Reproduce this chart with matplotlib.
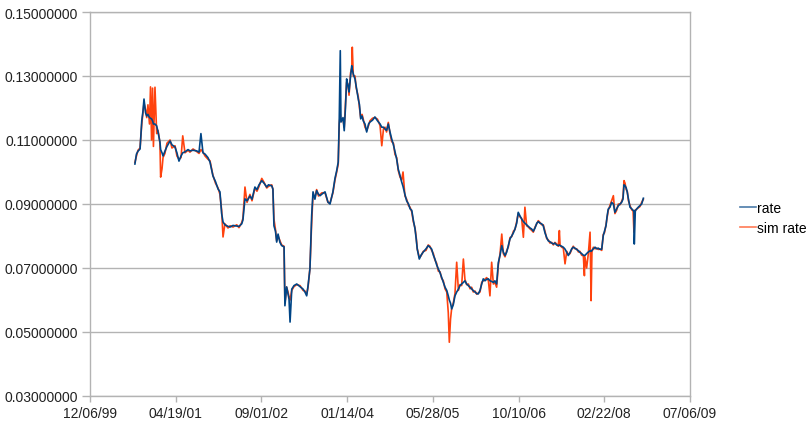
import datetime as dt
import matplotlib
matplotlib.use("Agg")
import matplotlib.pyplot as plt
import matplotlib.dates as mdates
from matplotlib.ticker import FuncFormatter, FixedLocator

plt.rcParams['font.family'] = ['Liberation Sans', 'DejaVu Sans']

# Days since 1999-12-06 for each observation
days = [262, 271, 280, 292, 302, 309, 315, 324, 331, 338, 347, 353, 359, 365, 370, 379, 389, 397,
        408, 412, 420, 426, 437, 449, 467, 478, 496, 507, 519, 531, 541, 554, 572, 583, 601, 622,
        636, 647, 659, 671, 688, 700, 717, 732, 747, 758, 768, 776, 787, 805, 817, 834, 856, 869,
        885, 892, 904, 916, 933, 945, 962, 974, 986, 1002, 1015, 1031, 1041, 1060, 1067, 1073,
        1082, 1089, 1097, 1108, 1118, 1132, 1137, 1147, 1155, 1161, 1167, 1177, 1190, 1206, 1225,
        1243, 1254, 1264, 1272, 1283, 1293, 1301, 1312, 1322, 1333, 1342, 1353, 1371, 1388, 1400,
        1417, 1429, 1439, 1448, 1454, 1460, 1464, 1476, 1483, 1490, 1497, 1505, 1511, 1520, 1527,
        1530, 1536, 1546, 1552, 1565, 1572, 1579, 1587, 1594, 1604, 1614, 1625, 1633, 1648, 1662,
        1677, 1692, 1702, 1712, 1721, 1730, 1740, 1750, 1760, 1770, 1779, 1789, 1798, 1808, 1818,
        1826, 1837, 1847, 1858, 1867, 1877, 1886, 1896, 1903, 1909, 1921, 1931, 1944, 1960, 1973,
        1983, 1993, 2003, 2012, 2022, 2032, 2042, 2051, 2061, 2071, 2081, 2090, 2096, 2103, 2110,
        2119, 2129, 2139, 2149, 2158, 2168, 2178, 2187, 2197, 2207, 2217, 2226, 2236, 2246, 2256,
        2265, 2275, 2285, 2294, 2304, 2314, 2324, 2333, 2343, 2353, 2362, 2372, 2382, 2392, 2402,
        2411, 2421, 2431, 2440, 2450, 2460, 2470, 2479, 2489, 2498, 2508, 2518, 2528, 2537, 2547,
        2557, 2567, 2576, 2586, 2596, 2606, 2615, 2625, 2635, 2644, 2654, 2664, 2673, 2683, 2693,
        2703, 2712, 2722, 2732, 2738, 2742, 2751, 2761, 2771, 2781, 2790, 2800, 2810, 2819, 2829,
        2839, 2849, 2858, 2868, 2878, 2884, 2887, 2897, 2907, 2917, 2923, 2928, 2936, 2946, 2956,
        2965, 2975, 2985, 2994, 3001, 3010, 3016, 3023, 3033, 3043, 3053, 3062, 3072, 3082, 3092,
        3101, 3109, 3115, 3121, 3128, 3134, 3141, 3150, 3160, 3168, 3173, 3175, 3181, 3189, 3198,
        3208, 3218, 3228]

rate = [0.1025, 0.1056, 0.1065, 0.1072, 0.1160, 0.1190, 0.1228, 0.1185, 0.1175, 0.1180, 0.1170,
        0.1168, 0.1166, 0.1160, 0.1150, 0.1150, 0.1144, 0.1125, 0.1094, 0.1070, 0.1060, 0.1050,
        0.1065, 0.1080, 0.1097, 0.1085, 0.1078, 0.1060, 0.1034, 0.1050, 0.1060, 0.1063, 0.1070,
        0.1066, 0.1068, 0.1066, 0.1062, 0.1120, 0.1060, 0.1056, 0.1045, 0.1031, 0.0988, 0.0970,
        0.0947, 0.0938, 0.0870, 0.0844, 0.0835, 0.0830, 0.0828, 0.0833, 0.0831, 0.0830, 0.0838,
        0.0850, 0.0916, 0.0910, 0.0925, 0.0915, 0.0953, 0.0945, 0.0960, 0.0973, 0.0965, 0.0953,
        0.0960, 0.0957, 0.0947, 0.0832, 0.0815, 0.0781, 0.0806, 0.0780, 0.0770, 0.0766, 0.0582,
        0.0641, 0.0620, 0.0603, 0.0531, 0.0634, 0.0645, 0.0650, 0.0642, 0.0634, 0.0625, 0.0613,
        0.0645, 0.0697, 0.0863, 0.0938, 0.0915, 0.0942, 0.0930, 0.0926, 0.0931, 0.0938, 0.0906,
        0.0900, 0.0938, 0.0980, 0.1004, 0.1031, 0.1166, 0.1379, 0.1156, 0.1170, 0.1129, 0.1200,
        0.1291, 0.1270, 0.1250, 0.1300, 0.1332, 0.1320, 0.1306, 0.1290, 0.1270, 0.1228, 0.1210,
        0.1166, 0.1175, 0.1160, 0.1150, 0.1125, 0.1150, 0.1156, 0.1162, 0.1172, 0.1160, 0.1150,
        0.1140, 0.1140, 0.1134, 0.1130, 0.1150, 0.1125, 0.1103, 0.1085, 0.1063, 0.1040, 0.1009,
        0.0990, 0.0969, 0.0955, 0.0930, 0.0910, 0.0900, 0.0885, 0.0880, 0.0850, 0.0822, 0.0790,
        0.0759, 0.0728, 0.0740, 0.0750, 0.0760, 0.0770, 0.0765, 0.0759, 0.0740, 0.0728, 0.0710,
        0.0697, 0.0685, 0.0671, 0.0655, 0.0640, 0.0630, 0.0613, 0.0600, 0.0590, 0.0572, 0.0585,
        0.0613, 0.0625, 0.0634, 0.0645, 0.0650, 0.0655, 0.0660, 0.0650, 0.0645, 0.0640, 0.0635,
        0.0629, 0.0625, 0.0620, 0.0619, 0.0630, 0.0650, 0.0666, 0.0660, 0.0665, 0.0666, 0.0660,
        0.0658, 0.0655, 0.0660, 0.0650, 0.0717, 0.0740, 0.0770, 0.0750, 0.0739, 0.0750, 0.0770,
        0.0791, 0.0800, 0.0810, 0.0822, 0.0840, 0.0874, 0.0863, 0.0853, 0.0845, 0.0840, 0.0835,
        0.0830, 0.0825, 0.0822, 0.0815, 0.0825, 0.0840, 0.0845, 0.0840, 0.0838, 0.0832, 0.0810,
        0.0795, 0.0785, 0.0782, 0.0778, 0.0775, 0.0778, 0.0772, 0.0770, 0.0772, 0.0770, 0.0768,
        0.0765, 0.0759, 0.0749, 0.0739, 0.0748, 0.0760, 0.0765, 0.0762, 0.0758, 0.0754, 0.0749,
        0.0745, 0.0740, 0.0739, 0.0739, 0.0745, 0.0750, 0.0754, 0.0752, 0.0755, 0.0760, 0.0765,
        0.0760, 0.0762, 0.0758, 0.0759, 0.0801, 0.0815, 0.0832, 0.0860, 0.0884, 0.0890, 0.0905,
        0.0900, 0.0874, 0.0885, 0.0895, 0.0900, 0.0905, 0.0915, 0.0960, 0.0957, 0.0950, 0.0937,
        0.0915, 0.0890, 0.0885, 0.0880, 0.0879, 0.0775, 0.0880, 0.0884, 0.0890, 0.0895, 0.0900,
        0.0918]

sim_rate = [0.1030, 0.1050, 0.1068, 0.1075, 0.1150, 0.1185, 0.1215, 0.1195, 0.1170, 0.1210, 0.1150,
            0.1266, 0.1100, 0.1262, 0.1080, 0.1265, 0.1120, 0.1130, 0.1090, 0.0984, 0.1010, 0.1045,
            0.1058, 0.1090, 0.1100, 0.1075, 0.1082, 0.1050, 0.1040, 0.1045, 0.1113, 0.1060, 0.1068,
            0.1062, 0.1072, 0.1064, 0.1058, 0.1070, 0.1062, 0.1050, 0.1040, 0.1035, 0.0990, 0.0965,
            0.0950, 0.0930, 0.0880, 0.0797, 0.0838, 0.0825, 0.0832, 0.0828, 0.0835, 0.0826, 0.0842,
            0.0855, 0.0953, 0.0905, 0.0930, 0.0910, 0.0950, 0.0940, 0.0955, 0.0980, 0.0968, 0.0950,
            0.0955, 0.0960, 0.0945, 0.0853, 0.0820, 0.0785, 0.0800, 0.0785, 0.0772, 0.0768, 0.0590,
            0.0640, 0.0625, 0.0610, 0.0600, 0.0630, 0.0642, 0.0648, 0.0645, 0.0630, 0.0628, 0.0618,
            0.0640, 0.0700, 0.0840, 0.0930, 0.0920, 0.0945, 0.0925, 0.0930, 0.0935, 0.0935, 0.0905,
            0.0903, 0.0935, 0.0975, 0.1000, 0.1025, 0.1150, 0.1180, 0.1160, 0.1165, 0.1140, 0.1210,
            0.1280, 0.1275, 0.1240, 0.1310, 0.1325, 0.1390, 0.1300, 0.1300, 0.1265, 0.1235, 0.1200,
            0.1170, 0.1180, 0.1165, 0.1140, 0.1130, 0.1145, 0.1160, 0.1168, 0.1170, 0.1165, 0.1145,
            0.1082, 0.1135, 0.1140, 0.1125, 0.1155, 0.1120, 0.1095, 0.1090, 0.1055, 0.1045, 0.1005,
            0.0985, 0.0975, 0.1000, 0.0925, 0.0915, 0.0895, 0.0890, 0.0875, 0.0845, 0.0825, 0.0795,
            0.0760, 0.0732, 0.0738, 0.0752, 0.0755, 0.0772, 0.0768, 0.0755, 0.0745, 0.0725, 0.0715,
            0.0690, 0.0688, 0.0668, 0.0660, 0.0635, 0.0625, 0.0560, 0.0468, 0.0540, 0.0575, 0.0590,
            0.0620, 0.0718, 0.0630, 0.0648, 0.0645, 0.0728, 0.0665, 0.0648, 0.0650, 0.0635, 0.0640,
            0.0625, 0.0628, 0.0618, 0.0622, 0.0625, 0.0655, 0.0660, 0.0665, 0.0670, 0.0660, 0.0613,
            0.0718, 0.0650, 0.0655, 0.0640, 0.0710, 0.0745, 0.0806, 0.0745, 0.0735, 0.0755, 0.0765,
            0.0795, 0.0798, 0.0815, 0.0820, 0.0845, 0.0870, 0.0860, 0.0855, 0.0796, 0.0890, 0.0832,
            0.0828, 0.0822, 0.0818, 0.0812, 0.0828, 0.0838, 0.0848, 0.0842, 0.0835, 0.0835, 0.0815,
            0.0792, 0.0788, 0.0778, 0.0780, 0.0772, 0.0780, 0.0775, 0.0768, 0.0817, 0.0772, 0.0765,
            0.0762, 0.0713, 0.0752, 0.0742, 0.0745, 0.0758, 0.0768, 0.0760, 0.0760, 0.0750, 0.0752,
            0.0740, 0.0738, 0.0676, 0.0735, 0.0700, 0.0745, 0.0812, 0.0598, 0.0750, 0.0765, 0.0760,
            0.0762, 0.0758, 0.0760, 0.0755, 0.0805, 0.0810, 0.0835, 0.0855, 0.0880, 0.0895, 0.0910,
            0.0926, 0.0870, 0.0880, 0.0900, 0.0898, 0.0908, 0.0920, 0.0973, 0.0965, 0.0945, 0.0940,
            0.0910, 0.0895, 0.0882, 0.0878, 0.0812, 0.0880, 0.0878, 0.0885, 0.0888, 0.0892, 0.0905,
            0.0915]

start_date = dt.date(1999, 12, 6)
end_date = dt.date(2009, 7, 6)
tick_step_days = 500
y_ticks = [0.03, 0.05, 0.07, 0.09, 0.11, 0.13, 0.15]
series_names = ["rate", "sim rate"]

dates = [start_date + dt.timedelta(days=d) for d in days]
x_ticks = [start_date + dt.timedelta(days=tick_step_days * k) for k in range(8)]

fig = plt.figure(figsize=(8.10, 4.39), dpi=100)
ax = fig.add_axes([90 / 810, 1 - 397 / 439, 600 / 810, 384 / 439])

grid_col = "#b3b3b3"
ax.plot(dates, sim_rate, color="#ff420e", lw=1.2, label=series_names[1], zorder=2)
ax.plot(dates, rate, color="#004586", lw=1.2, label=series_names[0], zorder=3)

ax.set_xlim(mdates.date2num(start_date), mdates.date2num(end_date))
ax.set_ylim(0.03, 0.15)
ax.xaxis.set_major_locator(FixedLocator(mdates.date2num(x_ticks)))
ax.xaxis.set_major_formatter(mdates.DateFormatter("%m/%d/%y"))
ax.yaxis.set_major_locator(FixedLocator(y_ticks))
ax.yaxis.set_major_formatter(FuncFormatter(lambda v, p: f"{v:.8f}"))

ax.grid(axis="y", color=grid_col, lw=1.0, zorder=0)
for s in ax.spines.values():
    s.set_color(grid_col)
    s.set_linewidth(1.0)
ax.tick_params(axis="both", colors=grid_col, labelcolor="#222222", labelsize=10,
               width=1.0, direction="out")
ax.tick_params(axis="x", length=4.5, pad=3)
ax.tick_params(axis="y", length=5.8, pad=3)

handles, labels = ax.get_legend_handles_labels()
order = [1, 0]
leg = fig.legend([handles[i] for i in order], [labels[i] for i in order],
                 loc="center left", bbox_to_anchor=(740 / 810, 1 - 219 / 439),
                 frameon=False, fontsize=10, handlelength=1.15, handletextpad=0.1,
                 labelspacing=0.45, borderaxespad=0, borderpad=0)
for line in leg.get_lines():
    line.set_linewidth(1.2)
    line.set_alpha(0.7)

fig.savefig("out.png", dpi=100)
